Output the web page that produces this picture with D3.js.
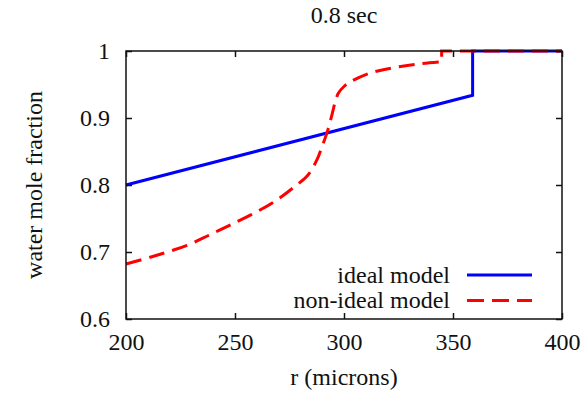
<!DOCTYPE html>
<html lang="en">
<head>
    <meta charset="UTF-8">
    <title>0.8 sec</title>
    <script src="https://d3js.org/d3.v7.min.js"></script>
    <style>
        body { margin: 0; background: white; }
        svg text { font-family: "Liberation Serif", "Times New Roman", Tinos, "DejaVu Serif", serif; fill: #111; }
    </style>
</head>
<body>
    <div id="chart"></div>

    <script>
        // ideal model: linear rise, then a jump to pure water
        const idealR = [200, 359, 359, 400];
        const idealW = [0.800, 0.934, 1.0, 1.0];

        // non-ideal model
        const nonIdealR = [200, 213, 228, 238, 247, 257, 268, 277.5, 283.5, 287.5, 290, 292.4, 294.4, 295.8, 297.4, 300, 303, 311, 318, 326, 335, 344.8, 344.8, 400];
        const nonIdealW = [0.682, 0.694, 0.710, 0.725, 0.739, 0.755, 0.775, 0.798, 0.815, 0.837, 0.858, 0.880, 0.904, 0.922, 0.937, 0.947, 0.954, 0.966, 0.972, 0.977, 0.981, 0.984, 1.0, 1.0];
        const stepAt = nonIdealW.indexOf(1) - 1; // last point before the jump to 1

        const xTicks = [200, 250, 300, 350, 400];
        const yTicks = [0.6, 0.7, 0.8, 0.9, 1];
        const seriesNames = ["ideal model", "non-ideal model"];

        const width = 586, height = 399;
        const margin = { top: 51, right: 24, bottom: 80, left: 126 };
        const serif = '"Liberation Serif", "Times New Roman", Tinos, "DejaVu Serif", serif';

        const svg = d3.select("#chart").append("svg")
            .attr("width", width)
            .attr("height", height)
            .attr("font-family", serif);

        const x = d3.scaleLinear().domain([200, 400]).range([margin.left, width - margin.right]);
        const y = d3.scaleLinear().domain([0.6, 1]).range([height - margin.bottom, margin.top]);

        const line = d3.line()
            .x(d => x(d[0]))
            .y(d => y(d[1]));

        const smoothLine = d3.line()
            .x(d => x(d[0]))
            .y(d => y(d[1]))
            .curve(d3.curveCatmullRom.alpha(0.5));

        const idealPts = idealR.map((r, i) => [r, idealW[i]]);
        const nonIdealPts = nonIdealR.map((r, i) => [r, nonIdealW[i]]);

        // smooth part, then the straight step, kept in one path so the dashes run on
        const nonIdealPath = smoothLine(nonIdealPts.slice(0, stepAt + 1)) +
            line(nonIdealPts.slice(stepAt + 1)).replace(/^M/, "L");

        const g = svg.append("g");

        g.append("path")
            .datum(idealPts)
            .attr("d", line)
            .attr("fill", "none")
            .attr("stroke", "#0000ff")
            .attr("stroke-width", 3);

        g.append("path")
            .attr("d", nonIdealPath)
            .attr("fill", "none")
            .attr("stroke", "#ff0000")
            .attr("stroke-width", 3)
            .attr("stroke-dasharray", "16,8");

        // axes: ticks drawn inward, mirrored on the top and right
        const tk = 6;
        svg.append("g")
            .attr("transform", `translate(0,${y(0.6)})`)
            .call(d3.axisBottom(x).tickValues(xTicks).tickSizeInner(-tk).tickSizeOuter(0).tickPadding(14).tickFormat(d3.format("d")))
            .call(a => a.select(".domain").remove())
            .call(a => a.selectAll("text").attr("font-size", 24).attr("dy", "0.71em"));

        svg.append("g")
            .attr("transform", `translate(0,${y(1)})`)
            .call(d3.axisTop(x).tickValues(xTicks).tickSizeInner(-tk).tickSizeOuter(0).tickFormat(""))
            .call(a => a.select(".domain").remove());

        svg.append("g")
            .attr("transform", `translate(${x(200)},0)`)
            .call(d3.axisLeft(y).tickValues(yTicks).tickSizeInner(-tk).tickSizeOuter(0).tickPadding(16).tickFormat(d => d === 1 ? "1" : d3.format(".1f")(d)))
            .call(a => a.select(".domain").remove())
            .call(a => a.selectAll("text").attr("font-size", 24));

        svg.append("g")
            .attr("transform", `translate(${x(400)},0)`)
            .call(d3.axisRight(y).tickValues(yTicks).tickSizeInner(-tk).tickSizeOuter(0).tickFormat(""))
            .call(a => a.select(".domain").remove());

        svg.selectAll("g").attr("font-family", serif);
        svg.selectAll(".tick line").attr("stroke", "#111").attr("stroke-width", 1.5);

        svg.append("rect")
            .attr("x", x(200))
            .attr("y", y(1))
            .attr("width", x(400) - x(200))
            .attr("height", y(0.6) - y(1))
            .attr("fill", "none")
            .attr("stroke", "#111")
            .attr("stroke-width", 1.5);

        // titles
        svg.append("text")
            .attr("x", (x(200) + x(400)) / 2)
            .attr("y", 23)
            .attr("text-anchor", "middle")
            .attr("font-size", 24)
            .text("0.8 sec");

        svg.append("text")
            .attr("x", (x(200) + x(400)) / 2)
            .attr("y", 385)
            .attr("text-anchor", "middle")
            .attr("font-size", 24)
            .text("r (microns)");

        svg.append("text")
            .attr("transform", `translate(42,${(y(0.6) + y(1)) / 2}) rotate(-90)`)
            .attr("text-anchor", "middle")
            .attr("font-size", 24)
            .text("water mole fraction");

        // legend
        const legend = svg.append("g");
        const legendStyles = [
            { color: "#0000ff", dash: null },
            { color: "#ff0000", dash: "17,8" }
        ];
        seriesNames.forEach((name, i) => {
            const ly = 275 + i * 25.5;
            legend.append("text")
                .attr("x", 450)
                .attr("y", ly)
                .attr("dy", "0.33em")
                .attr("text-anchor", "end")
                .attr("font-size", 24)
                .text(name);
            legend.append("line")
                .attr("x1", 467).attr("x2", 532)
                .attr("y1", ly).attr("y2", ly)
                .attr("stroke", legendStyles[i].color)
                .attr("stroke-width", 3)
                .attr("stroke-dasharray", legendStyles[i].dash);
        });
    </script>
</body>
</html>
